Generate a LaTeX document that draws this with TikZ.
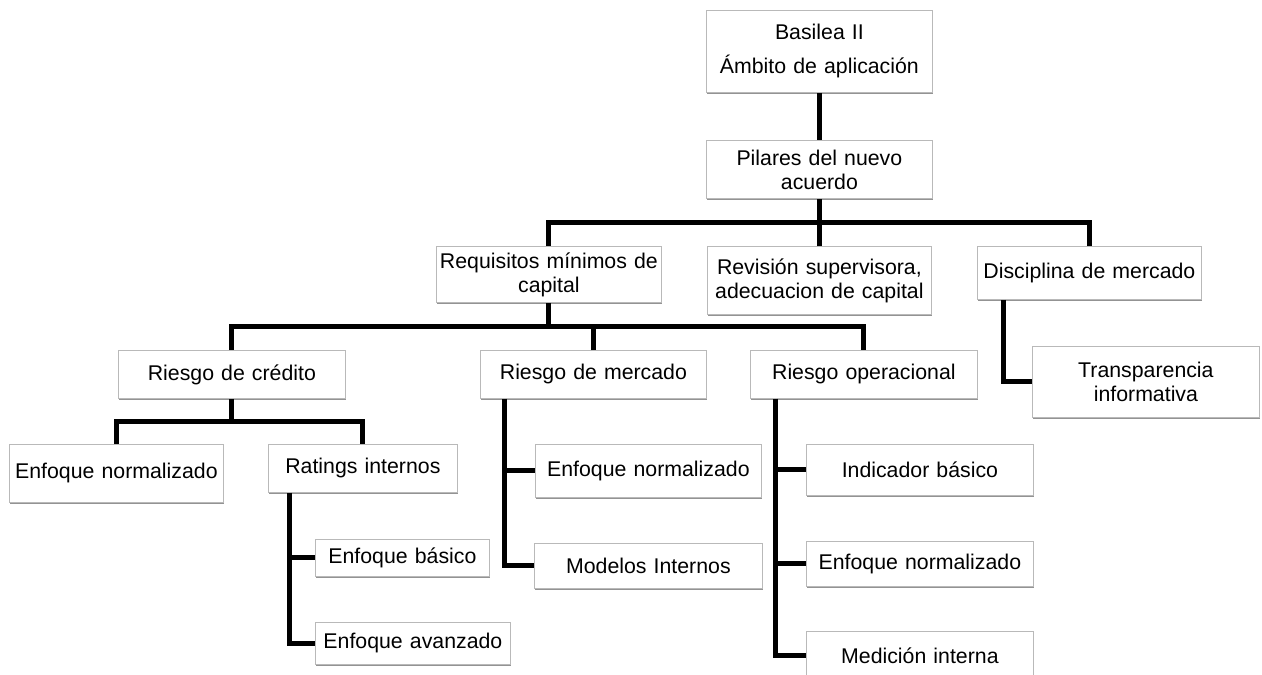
\documentclass[tikz,border=0pt]{standalone}
\usepackage{fontspec}
\setmainfont{Liberation Sans}
\usetikzlibrary{calc,shadows}

\tikzset{
  box/.style={draw=gray!55, line width=0.8pt, fill=white, anchor=north west,
    inner sep=2pt, align=center, font=\fontsize{21.3}{24}\selectfont,
    drop shadow={shadow xshift=0.7pt, shadow yshift=-1.8pt, fill=gray!85, opacity=1}},
  conn/.style={draw=black, line width=5pt, line join=miter, line cap=butt},
}
% place a box by its corner (x,y) and its size (w,h), all in pixels
\newcommand{\bx}[7][]{\node[box, minimum width=#5pt, minimum height=#6pt, text width=#5pt-6pt, #1] (#2) at (#3,#4) {#7};}

\begin{document}
\begin{tikzpicture}[x=1pt, y=-1pt]
\useasboundingbox (0,0) rectangle (1262,675);
\fill[white] (0,0) rectangle (1262,675);

% boxes
\bx[font=\fontsize{21.3}{34}\selectfont]{bas}{706}{10}{226}{82}{Basilea II\\Ámbito de aplicación}
\bx{pil}{706}{140}{226}{58}{Pilares del nuevo\\acuerdo}
\bx{req}{436}{246}{225}{56}{Requisitos mínimos de\\capital}
\bx{rev}{707}{246}{224}{68}{Revisión supervisora,\\adecuacion de capital}
\bx{dis}{977}{246}{224}{53}{Disciplina de mercado}
\bx{tra}{1032}{346}{227}{71}{Transparencia\\informativa}
\bx{rcr}{118}{350}{227}{48}{Riesgo de crédito}
\bx{rme}{480}{350}{226}{48}{Riesgo de mercado}
\bx{rop}{750}{350}{227}{48}{Riesgo operacional}
\bx{enl}{9}{444}{214}{58}{Enfoque normalizado}
\bx{rat}{268}{444}{189}{48}{Ratings internos}
\bx{eba}{315}{539}{174}{37}{Enfoque básico}
\bx{eav}{315}{622}{195}{42}{Enfoque avanzado}
\bx{enm}{535}{444}{226}{53}{Enfoque normalizado}
\bx{mod}{534}{543}{228}{45}{Modelos Internos}
\bx{ind}{806}{444}{227}{51}{Indicador básico}
\bx{eno}{806}{541}{227}{45}{Enfoque normalizado}
\bx{med}{806}{631}{227}{48}{Medición interna}

% tree connectors
\draw[conn] (bas.south) -- (pil.north);

\coordinate (b1) at ($(pil.south)+(0,24)$);
\draw[conn] (pil.south) -- (b1);
\draw[conn] (req.north) |- (b1) -| (dis.north);
\draw[conn] (rev.north) -- (rev.north |- b1);

\coordinate (b2) at ($(req.south)+(0,24)$);
\draw[conn] (req.south) -- (b2);
\draw[conn] (rcr.north) |- (b2) -| (rop.north);
\draw[conn] (rme.north) -- (rme.north |- b2);

\coordinate (b3) at ($(rcr.south)+(0,23)$);
\draw[conn] (rcr.south) -- (b3);
\draw[conn] (enl.north) |- (b3) -| (rat.north);

\coordinate (t1) at ($(rat.south west)+(21,0)$);
\draw[conn] (t1) |- (eba.west);
\draw[conn] (t1) |- (eav.west);

\coordinate (t2) at ($(rme.south west)+(24,0)$);
\draw[conn] (t2) |- (enm.west);
\draw[conn] (t2) |- (mod.west);

\coordinate (t3) at ($(rop.south west)+(25,0)$);
\draw[conn] (t3) |- (ind.west);
\draw[conn] (t3) |- (eno.west);
\draw[conn] (t3) |- (med.west);

\coordinate (t4) at ($(dis.south west)+(26,0)$);
\draw[conn] (t4) |- (tra.west);
\end{tikzpicture}
\end{document}
